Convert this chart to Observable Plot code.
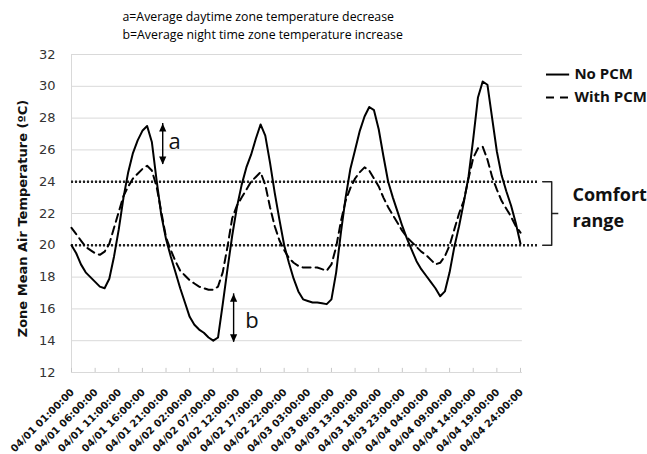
<!DOCTYPE html>
<html>
<head>
<meta charset="utf-8">
<script src="https://cdn.jsdelivr.net/npm/d3@7"></script>
<script src="https://cdn.jsdelivr.net/npm/@observablehq/plot@0.6"></script>
<style>
  html, body { margin: 0; padding: 0; background: #fff; }
  #chart svg { display: block; }
</style>
</head>
<body>
<div id="chart"></div>
<script>
// ---- data ----
const hours = d3.range(1, 97); // hourly categories, 04/01 01:00 .. 04/04 24:00

const noPCM = [
  20.0, 19.5, 18.8, 18.3, 18.0, 17.7, 17.4, 17.3, 17.9, 19.3,
  21.0, 23.0, 24.6, 25.8, 26.6, 27.2, 27.5, 26.5, 24.1, 21.9,
  20.4, 19.3, 18.3, 17.3, 16.4, 15.5, 15.0, 14.7, 14.5, 14.2,
  14.0, 14.2, 16.3, 18.5, 20.6, 22.4, 23.8, 24.9, 25.7, 26.7,
  27.6, 26.9, 25.2, 23.3, 21.6, 20.0, 18.9, 17.9, 17.1, 16.6,
  16.5, 16.4, 16.4, 16.35, 16.3, 16.6, 18.3, 20.8, 23.0, 24.8,
  26.0, 27.2, 28.1, 28.7, 28.5, 27.3, 25.6, 24.0, 23.0, 22.1,
  21.2, 20.4, 19.7, 19.0, 18.5, 18.1, 17.7, 17.3, 16.8, 17.1,
  18.3, 19.9, 21.2, 22.7, 24.3, 26.7, 29.3, 30.3, 30.1, 28.0,
  25.9, 24.4, 23.4, 22.5, 21.4, 20.1
];

const withPCM = [
  21.1, 20.7, 20.3, 19.9, 19.7, 19.5, 19.4, 19.6, 20.1, 21.1,
  22.1, 23.1, 23.7, 24.2, 24.5, 24.8, 25.0, 24.7, 23.7, 22.1,
  20.5, 19.7, 19.0, 18.4, 18.1, 17.8, 17.6, 17.4, 17.3, 17.2,
  17.2, 17.4, 18.3, 19.9, 21.7, 22.5, 23.0, 23.5, 24.0, 24.3,
  24.6, 23.8, 22.4, 21.2, 20.3, 19.7, 19.2, 18.9, 18.7, 18.6,
  18.6, 18.6, 18.6, 18.5, 18.4, 18.8, 19.9, 21.5, 22.8, 23.6,
  24.2, 24.6, 24.9, 24.7, 24.2, 23.7, 23.0, 22.4, 21.9, 21.4,
  20.9, 20.5, 20.2, 19.9, 19.6, 19.4, 19.1, 18.8, 18.9, 19.3,
  20.0, 21.0, 22.0, 22.8, 24.2, 25.5, 26.1, 26.2, 25.4, 24.3,
  23.5, 22.8, 22.3, 21.8, 21.2, 20.8
];

const xTickHours = [1, 6, 11, 16, 21, 26, 31, 36, 41, 46, 51, 56, 61, 66, 71, 76, 81, 86, 91, 96];
const xTickLabels = [
  "04/01 01:00:00", "04/01 06:00:00", "04/01 11:00:00", "04/01 16:00:00", "04/01 21:00:00",
  "04/02 02:00:00", "04/02 07:00:00", "04/02 12:00:00", "04/02 17:00:00", "04/02 22:00:00",
  "04/03 03:00:00", "04/03 08:00:00", "04/03 13:00:00", "04/03 18:00:00", "04/03 23:00:00",
  "04/04 04:00:00", "04/04 09:00:00", "04/04 14:00:00", "04/04 19:00:00", "04/04 24:00:00"
];
const yTicks = [12, 14, 16, 18, 20, 22, 24, 26, 28, 30, 32];
const comfortBounds = [20, 24];
const seriesNames = ["No PCM", "With PCM"];
const titleLines = [
  "a=Average daytime zone temperature decrease",
  "b=Average night time zone temperature increase"
];
const yLabel = "Zone Mean Air Temperature (ºC)";
const comfortLabel = ["Comfort", "range"];
const arrowLabels = ["a", "b"];

// ---- table built from the arrays ----
const rows = hours.map((h, i) => ({h, no: noPCM[i], pcm: withPCM[i]}));

// ---- annotation geometry (in data units) ----
const arrowA = {x: 20.3, top: 27.66, bottom: 25.08};
const arrowB = {x: 35.3, top: 16.95, bottom: 13.9};
const triUp = {draw(ctx) { ctx.moveTo(0, 0); ctx.lineTo(3.6, 8); ctx.lineTo(-3.6, 8); ctx.closePath(); }};
const triDown = {draw(ctx) { ctx.moveTo(0, 0); ctx.lineTo(3.6, -8); ctx.lineTo(-3.6, -8); ctx.closePath(); }};

const sans = "'Open Sans', sans-serif";
const verd = "'DejaVu Sans', sans-serif";

const chart = Plot.plot({
  width: 647,
  height: 454,
  marginLeft: 71,
  marginRight: 127,
  marginTop: 54,
  marginBottom: 82,
  style: {fontFamily: verd, background: "#fff", overflow: "visible"},
  x: {domain: [1, 96], axis: null},
  y: {domain: [12, 32], axis: null},
  marks: [
    // gridlines and axis lines
    Plot.ruleY(yTicks, {y: d => d, x1: () => 1, x2: () => 96.4, stroke: "#d9d9d9", strokeWidth: 1}),
    Plot.ruleX([1], {x: d => d, stroke: "#d9d9d9", strokeWidth: 1}),
    Plot.ruleX(xTickHours, {x: d => d, y1: () => 12, y2: () => 12.26, stroke: "#c8c8c8", strokeWidth: 1}),

    // comfort range dotted lines
    Plot.ruleY(comfortBounds, {y: d => d, x1: () => 1, x2: () => 99.6, stroke: "#222", strokeWidth: 2.6, strokeDasharray: "2,2"}),

    // series
    Plot.line(rows, {x: "h", y: "no", stroke: "#000", strokeWidth: 2}),
    Plot.line(rows, {x: "h", y: "pcm", stroke: "#000", strokeWidth: 2, strokeDasharray: "8,5"}),

    // y tick labels
    Plot.text(yTicks, {x: () => 1, y: d => d, text: d => String(d), dx: -16, textAnchor: "end", lineAnchor: "middle", fontSize: 13, fontFamily: verd, fill: "#333"}),
    // x tick labels
    Plot.text(xTickHours, {x: d => d, y: () => 12, text: (d, i) => xTickLabels[i], rotate: -45, textAnchor: "end", lineAnchor: "middle", dx: 1, dy: 18, fontSize: 10, fontWeight: "bold", fontFamily: verd, fill: "#111"}),
    // y axis label
    Plot.text([yLabel], {text: d => d, frameAnchor: "left", dx: -49, dy: 5, rotate: -90, textAnchor: "middle", lineAnchor: "middle", fontSize: 13, fontWeight: "bold", fontFamily: verd, fill: "#111"}),

    // title lines
    Plot.text([titleLines[0]], {text: d => d, frameAnchor: "top-left", dx: 51, dy: -37, textAnchor: "start", lineAnchor: "middle", fontSize: 12.3, fontWeight: 500, fontFamily: sans, fill: "#000"}),
    Plot.text([titleLines[1]], {text: d => d, frameAnchor: "top-left", dx: 51, dy: -19, textAnchor: "start", lineAnchor: "middle", fontSize: 12.3, fontWeight: 500, fontFamily: sans, fill: "#000"}),

    // arrows a and b
    Plot.ruleX([arrowA, arrowB], {x: "x", y1: "top", y2: "bottom", stroke: "#000", strokeWidth: 1.4}),
    Plot.dot([arrowA, arrowB], {x: "x", y: "top", symbol: triUp, fill: "#000", stroke: "none", r: 4}),
    Plot.dot([arrowA, arrowB], {x: "x", y: "bottom", symbol: triDown, fill: "#000", stroke: "none", r: 4}),
    Plot.text([arrowLabels[0]], {text: d => d, x: () => 22.8, y: () => 26.53, textAnchor: "middle", lineAnchor: "middle", fontSize: 22, fontFamily: sans, fill: "#111"}),
    Plot.text([arrowLabels[1]], {text: d => d, x: () => 39.2, y: () => 15.25, textAnchor: "middle", lineAnchor: "middle", fontSize: 22, fontFamily: sans, fill: "#111"}),

    // comfort bracket
    Plot.line([[100.7, 24], [102.6, 24], [102.6, 20], [100.7, 20]], {x: d => d[0], y: d => d[1], stroke: "#222", strokeWidth: 1.5}),
    Plot.ruleY([22], {y: d => d, x1: () => 102.6, x2: () => 104.1, stroke: "#222", strokeWidth: 1.5}),
    Plot.text([comfortLabel[0]], {text: d => d, x: () => 107.0, y: () => 23.12, textAnchor: "start", lineAnchor: "middle", fontSize: 18, fontWeight: "bold", fontFamily: sans, fill: "#111"}),
    Plot.text([comfortLabel[1]], {text: d => d, x: () => 107.0, y: () => 21.5, textAnchor: "start", lineAnchor: "middle", fontSize: 18, fontWeight: "bold", fontFamily: sans, fill: "#111"}),

    // legend
    Plot.ruleY([30.74], {y: d => d, x1: () => 101.5, x2: () => 106.4, stroke: "#000", strokeWidth: 2}),
    Plot.ruleY([29.3], {y: d => d, x1: () => 101.5, x2: () => 106.4, stroke: "#000", strokeWidth: 2, strokeDasharray: "8,6"}),
    Plot.text([seriesNames[0]], {text: d => d, x: () => 107.4, y: () => 30.74, textAnchor: "start", lineAnchor: "middle", fontSize: 15, fontWeight: "bold", fontFamily: sans, fill: "#111"}),
    Plot.text([seriesNames[1]], {text: d => d, x: () => 107.4, y: () => 29.3, textAnchor: "start", lineAnchor: "middle", fontSize: 15, fontWeight: "bold", fontFamily: sans, fill: "#111"})
  ]
});

document.getElementById("chart").append(chart);
</script>
</body>
</html>
